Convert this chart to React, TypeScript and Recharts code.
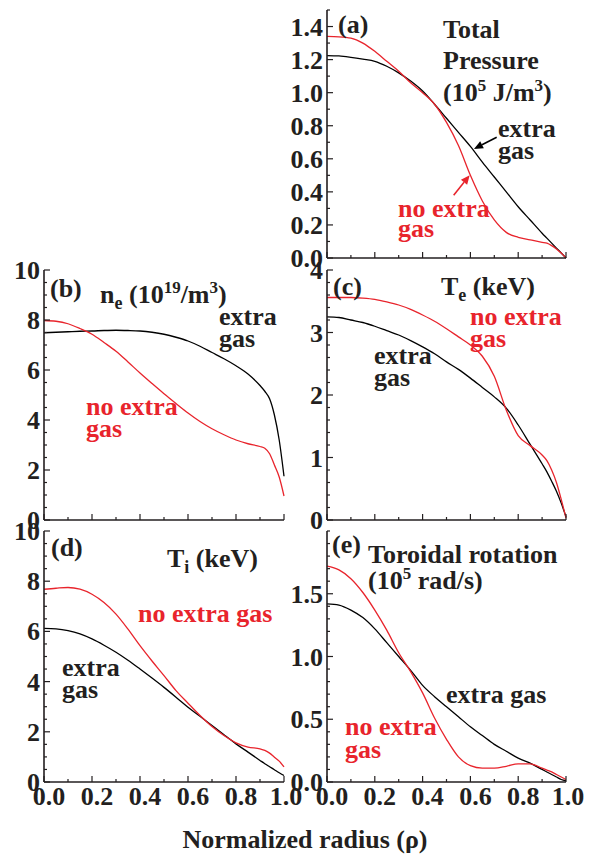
import React from 'react';
import { LineChart, Line, XAxis, YAxis, ReferenceLine } from 'recharts';

// normalized radius grid shared by all profiles
const rho = [0, 0.05, 0.1, 0.15, 0.2, 0.25, 0.3, 0.35, 0.4, 0.45, 0.5, 0.55, 0.6, 0.65, 0.7, 0.75, 0.8, 0.85, 0.9, 0.92, 0.94, 0.96, 0.98, 1.0];

// (a) total pressure, 10^5 J/m^3
const pressureExtra = [1.224, 1.222, 1.214, 1.203, 1.19, 1.16, 1.12, 1.07, 1.01, 0.93, 0.845, 0.76, 0.675, 0.58, 0.49, 0.4, 0.31, 0.23, 0.15, 0.12, 0.09, 0.06, 0.03, 0.0];
const pressureNoExtra = [1.34, 1.338, 1.33, 1.3, 1.25, 1.19, 1.13, 1.06, 1.0, 0.93, 0.82, 0.68, 0.5, 0.345, 0.23, 0.155, 0.125, 0.11, 0.095, 0.09, 0.075, 0.055, 0.03, 0.0];

// (b) electron density, 10^19 /m^3
const neExtra = [7.49, 7.51, 7.53, 7.55, 7.56, 7.58, 7.59, 7.58, 7.56, 7.51, 7.43, 7.31, 7.16, 6.95, 6.7, 6.45, 6.17, 5.84, 5.38, 5.15, 4.85, 4.2, 3.2, 1.75];
const neNoExtra = [7.98, 7.95, 7.85, 7.66, 7.43, 7.1, 6.75, 6.32, 5.88, 5.46, 5.05, 4.66, 4.28, 3.94, 3.65, 3.41, 3.2, 3.05, 2.94, 2.87, 2.65, 2.2, 1.72, 0.96];

// (c) electron temperature, keV
const teExtra = [3.25, 3.24, 3.2, 3.16, 3.1, 3.03, 2.96, 2.87, 2.77, 2.66, 2.53, 2.41, 2.27, 2.12, 1.97, 1.79, 1.52, 1.21, 0.9, 0.77, 0.62, 0.46, 0.27, 0.05];
const teNoExtra = [3.56, 3.56, 3.56, 3.55, 3.53, 3.49, 3.44, 3.37, 3.28, 3.18, 3.06, 2.93, 2.8, 2.62, 2.3, 1.76, 1.35, 1.19, 1.04, 0.95, 0.8, 0.6, 0.33, 0.03];

// (d) ion temperature, keV
const tiExtra = [6.12, 6.1, 6.03, 5.9, 5.7, 5.45, 5.17, 4.85, 4.5, 4.14, 3.77, 3.38, 2.98, 2.62, 2.25, 1.88, 1.52, 1.19, 0.86, 0.73, 0.61, 0.49, 0.37, 0.26];
const tiNoExtra = [7.68, 7.72, 7.75, 7.68, 7.48, 7.15, 6.69, 6.09, 5.43, 4.82, 4.24, 3.64, 3.14, 2.65, 2.21, 1.85, 1.56, 1.39, 1.32, 1.26, 1.15, 0.99, 0.83, 0.6];

// (e) toroidal rotation, 10^5 rad/s
const rotExtra = [1.42, 1.41, 1.37, 1.31, 1.22, 1.11, 1.0, 0.89, 0.77, 0.68, 0.6, 0.52, 0.44, 0.37, 0.3, 0.245, 0.19, 0.15, 0.1, 0.08, 0.06, 0.04, 0.02, 0.01];
const rotNoExtra = [1.72, 1.69, 1.62, 1.51, 1.37, 1.21, 1.03, 0.88, 0.71, 0.51, 0.34, 0.2, 0.13, 0.11, 0.11, 0.125, 0.145, 0.145, 0.11, 0.095, 0.08, 0.06, 0.04, 0.02];

// ticks
const xTicks = [0, 0.1, 0.2, 0.3, 0.4, 0.5, 0.6, 0.7, 0.8, 0.9, 1.0];
const xLabels = [0, 0.2, 0.4, 0.6, 0.8, 1.0];
const pressureTicks = [0, 0.1, 0.2, 0.3, 0.4, 0.5, 0.6, 0.7, 0.8, 0.9, 1.0, 1.1, 1.2, 1.3, 1.4, 1.5];
const pressureLabels = [0, 0.2, 0.4, 0.6, 0.8, 1.0, 1.2, 1.4];
const tenTicks = [0, 0.5, 1, 1.5, 2, 2.5, 3, 3.5, 4, 4.5, 5, 5.5, 6, 6.5, 7, 7.5, 8, 8.5, 9, 9.5, 10];
const tenLabels = [0, 2, 4, 6, 8, 10];
const teTicks = [0, 0.2, 0.4, 0.6, 0.8, 1, 1.2, 1.4, 1.6, 1.8, 2, 2.2, 2.4, 2.6, 2.8, 3, 3.2, 3.4, 3.6, 3.8, 4];
const teLabels = [0, 1, 2, 3, 4];
const rotTicks = [0, 0.1, 0.2, 0.3, 0.4, 0.5, 0.6, 0.7, 0.8, 0.9, 1.0, 1.1, 1.2, 1.3, 1.4, 1.5, 1.6, 1.7, 1.8, 1.9, 2.0];
const rotLabels = [0, 0.5, 1.0, 1.5];

const RED = '#e8242c';
const INK = '#231f20';
const FONT = "'Liberation Serif', 'Times New Roman', serif";
const FS = 26;

const has = (list: number[], v: number) => list.some(m => Math.abs(m - v) < 1e-6);

const makeTick = (side: string, major: number[], labels: number[] | null, digits: number) => (props: any) => {
  const { x, y, payload, index, visibleTicksCount } = props;
  const v = payload.value;
  const len = has(major, v) ? 6 : 3;
  let line;
  let label = null;
  if (side === 'left') {
    line = <line x1={x} y1={y} x2={x + len} y2={y} stroke={INK} strokeWidth={1.2} />;
    if (labels && has(labels, v)) {
      label = <text x={x - 4} y={y + 9} textAnchor="end" fontFamily={FONT} fontWeight="bold" fontSize={FS} fill={INK}>{v.toFixed(digits)}</text>;
    }
  } else if (side === 'right') {
    line = <line x1={x} y1={y} x2={x - len} y2={y} stroke={INK} strokeWidth={1.2} />;
  } else if (side === 'bottom') {
    line = <line x1={x} y1={y} x2={x} y2={y - len} stroke={INK} strokeWidth={1.2} />;
    if (labels && has(labels, v)) {
      const last = index === visibleTicksCount - 1;
      label = <text x={x + (last ? 2 : 5)} y={y + 23} textAnchor="middle" fontFamily={FONT} fontWeight="bold" fontSize={FS} fill={INK}>{v.toFixed(digits)}</text>;
    }
  } else {
    line = <line x1={x} y1={y} x2={x} y2={y + len} stroke={INK} strokeWidth={1.2} />;
  }
  return <g>{line}{label}</g>;
};

const arrowShape = (color: string) => (props: any) => {
  const { x1, y1, x2, y2 } = props;
  const a = Math.atan2(y2 - y1, x2 - x1);
  const L = 9, W = 4;
  const bx = x2 - L * Math.cos(a), by = y2 - L * Math.sin(a);
  const pts = `${x2},${y2} ${bx + W * Math.sin(a)},${by - W * Math.cos(a)} ${bx - W * Math.sin(a)},${by + W * Math.cos(a)}`;
  return (
    <g>
      <line x1={x1} y1={y1} x2={bx} y2={by} stroke={color} strokeWidth={1.6} />
      <polygon points={pts} fill={color} />
    </g>
  );
};

interface PanelProps {
  box: { x: number; y: number; w: number; h: number };
  extra: number[];
  noExtra: number[];
  yMax: number;
  yTicks: number[];
  yLabels: number[];
  yDigits: number;
  showX: boolean;
  arrows?: { from: [number, number]; to: [number, number]; color: string }[];
}

const AX = 44; // left axis space
const TOP = 18;
const RIGHT = 30;
const BOTTOM = 34;

const Panel: React.FC<PanelProps> = ({ box, extra, noExtra, yMax, yTicks, yLabels, yDigits, showX, arrows = [] }) => {
  const data = rho.map((r, i) => ({ rho: r, extra: extra[i], noExtra: noExtra[i] }));
  const W = box.w + AX + RIGHT;
  const H = box.h + TOP + BOTTOM;
  const axisLine = { stroke: INK, strokeWidth: 1.6 };
  return (
    <div style={{ position: 'absolute', left: box.x - AX, top: box.y - TOP, width: W, height: H }}>
      <LineChart width={W} height={H} data={data} margin={{ top: TOP, right: RIGHT, bottom: 0, left: 0 }}>
        <XAxis xAxisId="b" dataKey="rho" type="number" domain={[0, 1]} ticks={xTicks} interval={0}
          height={BOTTOM} tickSize={0} tickMargin={0} axisLine={axisLine} tickLine={false}
          tick={makeTick('bottom', xLabels, showX ? xLabels : null, 1)} />
        <XAxis xAxisId="t" orientation="top" dataKey="rho" type="number" domain={[0, 1]} ticks={xTicks} interval={0}
          height={0} tickSize={0} tickMargin={0} axisLine={axisLine} tickLine={false}
          tick={makeTick('top', xLabels, null, 1)} />
        <YAxis yAxisId="l" type="number" domain={[0, yMax]} ticks={yTicks} interval={0}
          width={AX} tickSize={0} tickMargin={0} axisLine={axisLine} tickLine={false}
          tick={makeTick('left', yLabels, yLabels, yDigits)} />
        <YAxis yAxisId="r" orientation="right" type="number" domain={[0, yMax]} ticks={yTicks} interval={0}
          width={0} tickSize={0} tickMargin={0} axisLine={axisLine} tickLine={false}
          tick={makeTick('right', yLabels, null, yDigits)} />
        <Line xAxisId="b" yAxisId="l" type="monotone" dataKey="extra" stroke="#000" strokeWidth={1.3} dot={false} isAnimationActive={false} />
        <Line xAxisId="b" yAxisId="l" type="monotone" dataKey="noExtra" stroke={RED} strokeWidth={1.3} dot={false} isAnimationActive={false} />
        {arrows.map((a, i) => (
          <ReferenceLine key={i} xAxisId="b" yAxisId="l"
            segment={[{ x: a.from[0], y: a.from[1] }, { x: a.to[0], y: a.to[1] }]}
            shape={arrowShape(a.color)} />
        ))}
      </LineChart>
    </div>
  );
};

const T: React.FC<{ x: number; y: number; color?: string; anchor?: string; children: React.ReactNode }> = ({ x, y, color = INK, anchor = 'start', children }) => (
  <text x={x} y={y} fill={color} textAnchor={anchor as any} fontFamily={FONT} fontWeight="bold" fontSize={FS}>{children}</text>
);

const sup = (s: string) => <tspan dy={-10} fontSize={17}>{s}</tspan>;
const back = (s: string) => <tspan dy={10}>{s}</tspan>;

export default function App() {
  return (
    <div style={{ position: 'absolute', left: 0, top: 0, width: 589, height: 859, background: '#fff', overflow: 'hidden' }}>
      <Panel box={{ x: 327, y: 10, w: 239, h: 248 }} extra={pressureExtra} noExtra={pressureNoExtra}
        yMax={1.5} yTicks={pressureTicks} yLabels={pressureLabels} yDigits={1} showX={false}
        arrows={[
          { from: [0.71, 0.73], to: [0.615, 0.66], color: '#000' },
          { from: [0.53, 0.38], to: [0.597, 0.5], color: RED },
        ]} />
      <Panel box={{ x: 44, y: 270, w: 240, h: 250 }} extra={neExtra} noExtra={neNoExtra}
        yMax={10} yTicks={tenTicks} yLabels={tenLabels} yDigits={0} showX={false} />
      <Panel box={{ x: 327, y: 270, w: 239, h: 250 }} extra={teExtra} noExtra={teNoExtra}
        yMax={4} yTicks={teTicks} yLabels={teLabels} yDigits={0} showX={false} />
      <Panel box={{ x: 44, y: 531, w: 240, h: 251 }} extra={tiExtra} noExtra={tiNoExtra}
        yMax={10} yTicks={tenTicks} yLabels={tenLabels} yDigits={0} showX={true} />
      <Panel box={{ x: 327, y: 531, w: 239, h: 251 }} extra={rotExtra} noExtra={rotNoExtra}
        yMax={2} yTicks={rotTicks} yLabels={rotLabels} yDigits={1} showX={true} />

      <svg width={589} height={859} style={{ position: 'absolute', left: 0, top: 0, pointerEvents: 'none' }}>
        {/* (a) */}
        <T x={338} y={33}>(a)</T>
        <T x={443} y={38}>Total</T>
        <T x={443} y={69}>Pressure</T>
        <T x={443} y={101}>(10{sup('5')}{back(' J/m')}{sup('3')}{back(')')}</T>
        <T x={498} y={137}>extra</T>
        <T x={498} y={159}>gas</T>
        <T x={398} y={217} color={RED}>no extra</T>
        <T x={398} y={237} color={RED}>gas</T>

        {/* (b) */}
        <T x={50} y={297}>(b)</T>
        <T x={100} y={303}>n<tspan dy={6} fontSize={18}>e</tspan><tspan dy={-6}> (10</tspan>{sup('19')}{back('/m')}{sup('3')}{back(')')}</T>
        <T x={219} y={325}>extra</T>
        <T x={219} y={347}>gas</T>
        <T x={86} y={415} color={RED}>no extra</T>
        <T x={86} y={437} color={RED}>gas</T>

        {/* (c) */}
        <T x={333} y={295}>(c)</T>
        <T x={441} y={295}>T<tspan dy={6} fontSize={18}>e</tspan><tspan dy={-6}> (keV)</tspan></T>
        <T x={470} y={325} color={RED}>no extra</T>
        <T x={470} y={347} color={RED}>gas</T>
        <T x={374} y={364}>extra</T>
        <T x={374} y={386}>gas</T>

        {/* (d) */}
        <T x={51} y={556}>(d)</T>
        <T x={167} y={567}>T<tspan dy={6} fontSize={18}>i</tspan><tspan dy={-6}> (keV)</tspan></T>
        <T x={138} y={622} color={RED}>no extra gas</T>
        <T x={62} y={676}>extra</T>
        <T x={62} y={698}>gas</T>

        {/* (e) */}
        <T x={332} y={553}>(e)</T>
        <T x={368} y={563}>Toroidal rotation</T>
        <T x={368} y={589}>(10{sup('5')}{back(' rad/s)')}</T>
        <T x={446} y={703}>extra gas</T>
        <T x={345} y={735} color={RED}>no extra</T>
        <T x={345} y={758} color={RED}>gas</T>

        <T x={305} y={848} anchor="middle">Normalized radius (ρ)</T>
      </svg>
    </div>
  );
}
